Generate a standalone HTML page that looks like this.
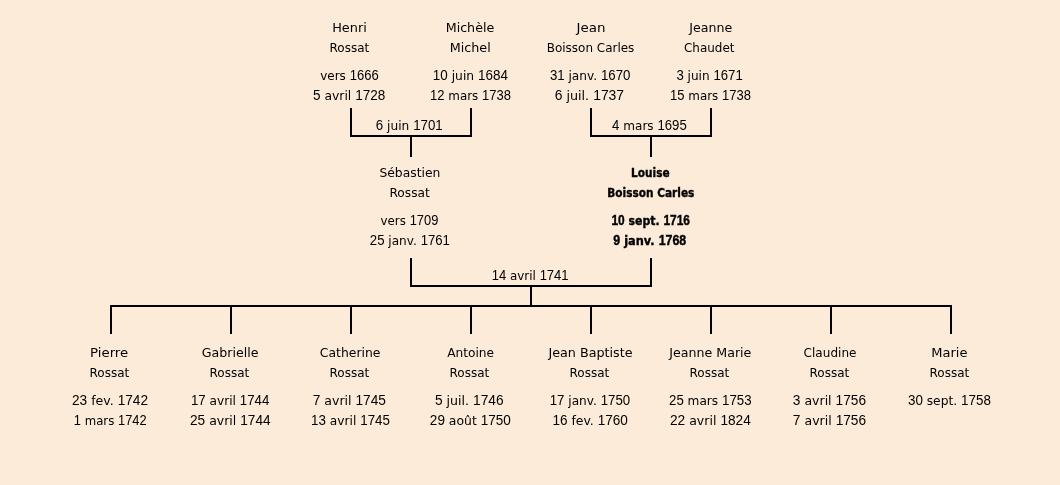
<!DOCTYPE html>
<html lang="fr">
<head>
<meta charset="utf-8">
<title>Arbre généalogique</title>
<style>
html,body{margin:0;padding:0;background:#FBEBD8;}
body{width:1060px;height:485px;overflow:hidden;}
svg{display:block;will-change:transform;}
text{font-family:"DejaVu Sans","Liberation Sans",sans-serif;font-size:13px;fill:#000;}
.b{font-weight:bold;stroke:#000;stroke-width:.4px;}
.d{font-family:"Liberation Sans","DejaVu Sans",sans-serif;font-size:14.2px;}
.l{fill:#000;}
</style>
</head>
<body>
<svg width="1060" height="485" viewBox="0 0 1060 485">
<rect width="1060" height="485" fill="#FBEBD8"/>
<g class="l" shape-rendering="crispEdges">
<rect x="350" y="108" width="2" height="29"/>
<rect x="470" y="108" width="2" height="29"/>
<rect x="350" y="135" width="122" height="2"/>
<rect x="410" y="135" width="2" height="22"/>
<rect x="590" y="108" width="2" height="29"/>
<rect x="710" y="108" width="2" height="29"/>
<rect x="590" y="135" width="122" height="2"/>
<rect x="650" y="135" width="2" height="22"/>
<rect x="410" y="258" width="2" height="29"/>
<rect x="650" y="258" width="2" height="29"/>
<rect x="410" y="285" width="242" height="2"/>
<rect x="530" y="285" width="2" height="22"/>
<rect x="110" y="305" width="842" height="2"/>
<rect x="110" y="305" width="2" height="29"/>
<rect x="230" y="305" width="2" height="29"/>
<rect x="350" y="305" width="2" height="29"/>
<rect x="470" y="305" width="2" height="29"/>
<rect x="590" y="305" width="2" height="29"/>
<rect x="710" y="305" width="2" height="29"/>
<rect x="830" y="305" width="2" height="29"/>
<rect x="950" y="305" width="2" height="29"/>
</g>
<g style="filter:grayscale(1)">
<text x="332.16" y="32" textLength="34.60" lengthAdjust="spacingAndGlyphs">Henri</text>
<text x="329.53" y="52" textLength="39.69" lengthAdjust="spacingAndGlyphs">Rossat</text>
<text x="320.28" y="80" textLength="58.43" lengthAdjust="spacingAndGlyphs">vers <tspan class="d">1666</tspan></text>
<text x="312.95" y="100" textLength="72.37" lengthAdjust="spacingAndGlyphs"><tspan class="d">5</tspan> avril <tspan class="d">1728</tspan></text>
<text x="445.71" y="32" textLength="48.53" lengthAdjust="spacingAndGlyphs">Michèle</text>
<text x="449.69" y="52" textLength="40.99" lengthAdjust="spacingAndGlyphs">Michel</text>
<text x="432.86" y="80" textLength="74.99" lengthAdjust="spacingAndGlyphs"><tspan class="d">10</tspan> juin <tspan class="d">1684</tspan></text>
<text x="430.09" y="100" textLength="80.82" lengthAdjust="spacingAndGlyphs"><tspan class="d">12</tspan> mars <tspan class="d">1738</tspan></text>
<text x="576.47" y="32" textLength="28.97" lengthAdjust="spacingAndGlyphs">Jean</text>
<text x="546.75" y="52" textLength="87.58" lengthAdjust="spacingAndGlyphs">Boisson Carles</text>
<text x="549.89" y="80" textLength="80.54" lengthAdjust="spacingAndGlyphs"><tspan class="d">31</tspan> janv. <tspan class="d">1670</tspan></text>
<text x="554.67" y="100" textLength="69.39" lengthAdjust="spacingAndGlyphs"><tspan class="d">6</tspan> juil. <tspan class="d">1737</tspan></text>
<text x="689.36" y="32" textLength="42.98" lengthAdjust="spacingAndGlyphs">Jeanne</text>
<text x="683.97" y="52" textLength="50.49" lengthAdjust="spacingAndGlyphs">Chaudet</text>
<text x="676.43" y="80" textLength="66.35" lengthAdjust="spacingAndGlyphs"><tspan class="d">3</tspan> juin <tspan class="d">1671</tspan></text>
<text x="670.09" y="100" textLength="80.82" lengthAdjust="spacingAndGlyphs"><tspan class="d">15</tspan> mars <tspan class="d">1738</tspan></text>
<text x="375.81" y="130" textLength="66.94" lengthAdjust="spacingAndGlyphs"><tspan class="d">6</tspan> juin <tspan class="d">1701</tspan></text>
<text x="612.10" y="130" textLength="74.65" lengthAdjust="spacingAndGlyphs"><tspan class="d">4</tspan> mars <tspan class="d">1695</tspan></text>
<text x="379.44" y="177" textLength="60.94" lengthAdjust="spacingAndGlyphs">Sébastien</text>
<text x="389.45" y="197" textLength="40.29" lengthAdjust="spacingAndGlyphs">Rossat</text>
<text x="380.62" y="225" textLength="57.69" lengthAdjust="spacingAndGlyphs">vers <tspan class="d">1709</tspan></text>
<text x="369.85" y="245" textLength="80.08" lengthAdjust="spacingAndGlyphs"><tspan class="d">25</tspan> janv. <tspan class="d">1761</tspan></text>
<text class="b" x="631.04" y="177" textLength="38.59" lengthAdjust="spacingAndGlyphs">Louise</text>
<text class="b" x="607.33" y="197" textLength="87.00" lengthAdjust="spacingAndGlyphs">Boisson Carles</text>
<text class="b" x="611.43" y="225" textLength="78.58" lengthAdjust="spacingAndGlyphs"><tspan class="d">10</tspan> sept. <tspan class="d">1716</tspan></text>
<text class="b" x="613.35" y="245" textLength="72.89" lengthAdjust="spacingAndGlyphs"><tspan class="d">9</tspan> janv. <tspan class="d">1768</tspan></text>
<text x="491.69" y="280" textLength="76.88" lengthAdjust="spacingAndGlyphs"><tspan class="d">14</tspan> avril <tspan class="d">1741</tspan></text>
<text x="90.09" y="357" textLength="38.11" lengthAdjust="spacingAndGlyphs">Pierre</text>
<text x="89.53" y="377" textLength="39.69" lengthAdjust="spacingAndGlyphs">Rossat</text>
<text x="72.04" y="405" textLength="76.00" lengthAdjust="spacingAndGlyphs"><tspan class="d">23</tspan> fev. <tspan class="d">1742</tspan></text>
<text x="73.85" y="425" textLength="72.69" lengthAdjust="spacingAndGlyphs"><tspan class="d">1</tspan> mars <tspan class="d">1742</tspan></text>
<text x="201.72" y="357" textLength="56.74" lengthAdjust="spacingAndGlyphs">Gabrielle</text>
<text x="209.53" y="377" textLength="39.69" lengthAdjust="spacingAndGlyphs">Rossat</text>
<text x="190.90" y="405" textLength="78.44" lengthAdjust="spacingAndGlyphs"><tspan class="d">17</tspan> avril <tspan class="d">1744</tspan></text>
<text x="189.97" y="425" textLength="80.69" lengthAdjust="spacingAndGlyphs"><tspan class="d">25</tspan> avril <tspan class="d">1744</tspan></text>
<text x="319.78" y="357" textLength="60.69" lengthAdjust="spacingAndGlyphs">Catherine</text>
<text x="329.53" y="377" textLength="39.69" lengthAdjust="spacingAndGlyphs">Rossat</text>
<text x="312.73" y="405" textLength="73.20" lengthAdjust="spacingAndGlyphs"><tspan class="d">7</tspan> avril <tspan class="d">1745</tspan></text>
<text x="311.09" y="425" textLength="78.85" lengthAdjust="spacingAndGlyphs"><tspan class="d">13</tspan> avril <tspan class="d">1745</tspan></text>
<text x="447.14" y="357" textLength="46.92" lengthAdjust="spacingAndGlyphs">Antoine</text>
<text x="449.53" y="377" textLength="39.69" lengthAdjust="spacingAndGlyphs">Rossat</text>
<text x="434.92" y="405" textLength="68.62" lengthAdjust="spacingAndGlyphs"><tspan class="d">5</tspan> juil. <tspan class="d">1746</tspan></text>
<text x="429.85" y="425" textLength="81.01" lengthAdjust="spacingAndGlyphs"><tspan class="d">29</tspan> août <tspan class="d">1750</tspan></text>
<text x="548.39" y="357" textLength="84.15" lengthAdjust="spacingAndGlyphs">Jean Baptiste</text>
<text x="569.53" y="377" textLength="39.69" lengthAdjust="spacingAndGlyphs">Rossat</text>
<text x="549.70" y="405" textLength="80.49" lengthAdjust="spacingAndGlyphs"><tspan class="d">17</tspan> janv. <tspan class="d">1750</tspan></text>
<text x="552.38" y="425" textLength="75.51" lengthAdjust="spacingAndGlyphs"><tspan class="d">16</tspan> fev. <tspan class="d">1760</tspan></text>
<text x="669.30" y="357" textLength="82.05" lengthAdjust="spacingAndGlyphs">Jeanne Marie</text>
<text x="689.53" y="377" textLength="39.69" lengthAdjust="spacingAndGlyphs">Rossat</text>
<text x="669.02" y="405" textLength="82.48" lengthAdjust="spacingAndGlyphs"><tspan class="d">25</tspan> mars <tspan class="d">1753</tspan></text>
<text x="670.02" y="425" textLength="80.76" lengthAdjust="spacingAndGlyphs"><tspan class="d">22</tspan> avril <tspan class="d">1824</tspan></text>
<text x="803.62" y="357" textLength="52.83" lengthAdjust="spacingAndGlyphs">Claudine</text>
<text x="809.53" y="377" textLength="39.69" lengthAdjust="spacingAndGlyphs">Rossat</text>
<text x="792.79" y="405" textLength="73.24" lengthAdjust="spacingAndGlyphs"><tspan class="d">3</tspan> avril <tspan class="d">1756</tspan></text>
<text x="792.87" y="425" textLength="73.19" lengthAdjust="spacingAndGlyphs"><tspan class="d">7</tspan> avril <tspan class="d">1756</tspan></text>
<text x="931.28" y="357" textLength="36.22" lengthAdjust="spacingAndGlyphs">Marie</text>
<text x="929.53" y="377" textLength="39.69" lengthAdjust="spacingAndGlyphs">Rossat</text>
<text x="907.94" y="405" textLength="82.93" lengthAdjust="spacingAndGlyphs"><tspan class="d">30</tspan> sept. <tspan class="d">1758</tspan></text>
</g>
</svg>
</body>
</html>
